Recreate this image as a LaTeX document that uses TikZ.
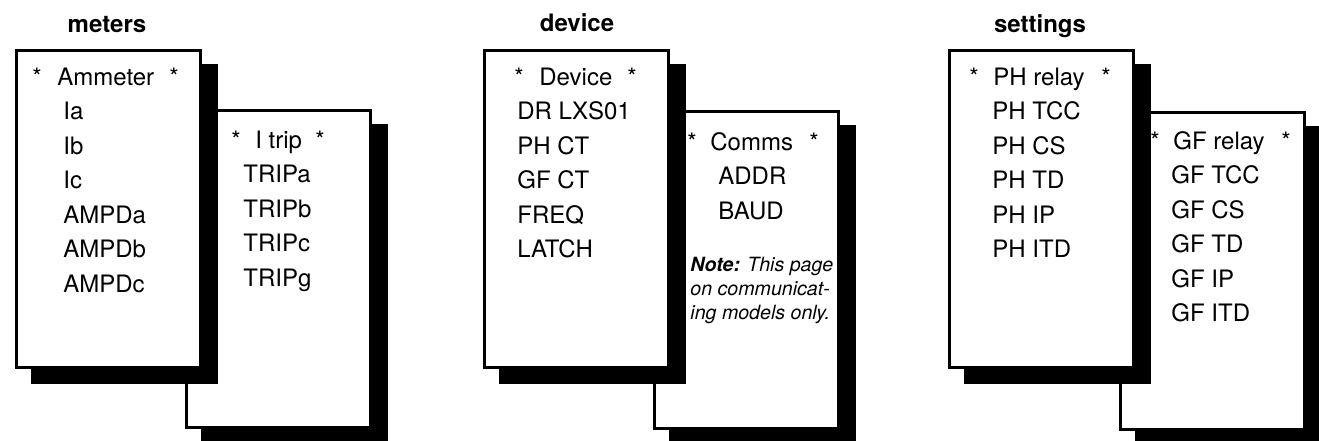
\documentclass[tikz,border=0pt]{standalone}
\usepackage{fontspec}
\setmainfont{TeX Gyre Heros}
\usetikzlibrary{positioning, shadows}

\begin{document}
\begin{tikzpicture}[
  x=0.5pt, y=-0.5pt,
  font=\fontsize{12}{14}\selectfont,
  page/.style  = {draw=black, fill=white, line width=1.5pt, inner sep=0pt,
                  minimum width=92pt, minimum height=158.5pt, anchor=north west,
                  drop shadow={fill=black, draw=black, line width=1.5pt, opacity=1,
                               shadow xshift=8pt, shadow yshift=-7.5pt}},
  title/.style = {font=\bfseries\fontsize{12}{14}\selectfont, anchor=base, inner sep=0pt},
  star/.style  = {anchor=base, inner sep=0pt},
  item/.style  = {anchor=base west, inner sep=0pt},
  note/.style  = {anchor=base west, inner sep=0pt, font=\itshape\fontsize{9.8}{12}\selectfont},
]
\useasboundingbox (0,0) rectangle (1319,440);

% ── Titles ────────────────────────────────────────────────────────────────────
\node[title] (t_met) at ( 107,32) {meters};
\node[title] (t_dev) at ( 577,31) {device};
\node[title] (t_set) at (1040,32) {settings};

% ── Back pages ────────────────────────────────────────────────────────────────
\node[page] (met_b) at ( 184.5,108.5) {};
\node[page] (dev_b) at ( 652.5,109.5) {};
\node[page] (set_b) at (1118.5,110.5) {};

% ── Front pages ───────────────────────────────────────────────────────────────
\node[page] (met_f) at ( 14.5,48.5) {};
\node[page] (dev_f) at (482.5,48.5) {};
\node[page] (set_f) at (947.5,48.5) {};

% ── meters ────────────────────────────────────────────────────────────────────
\node[star] (am_l) at ( 37,85) {*};
\node[item] (am_h) at ( 57,85) {Ammeter};
\node[star] (am_r) at (174,85) {*};
\foreach \t [count=\i] in {Ia, Ib, Ic, AMPDa, AMPDb, AMPDc}
  \node[item] (am-\i) at (63, 85+34.5*\i) {\t};

\node[star] (it_l) at (236,148) {*};
\node[item] (it_h) at (255,148) {I trip};
\node[star] (it_r) at (320,148) {*};
\foreach \t [count=\i] in {TRIPa, TRIPb, TRIPc, TRIPg}
  \node[item] (it-\i) at (243, 148+34.5*\i) {\t};

% ── device ────────────────────────────────────────────────────────────────────
\node[star] (dv_l) at (519,85) {*};
\node[item] (dv_h) at (539,85) {Device};
\node[star] (dv_r) at (632,85) {*};
\foreach \t [count=\i] in {DR LXS01, PH CT, GF CT, FREQ, LATCH}
  \node[item] (dv-\i) at (517, 85+34.5*\i) {\t};

\node[star] (cm_l) at (692,150) {*};
\node[item] (cm_h) at (710,150) {Comms};
\node[star] (cm_r) at (814,150) {*};
\foreach \t [count=\i] in {ADDR, BAUD}
  \node[item] (cm-\i) at (718, 150+34.5*\i) {\t};

\node[note] (nt-1) at (690,271) {\textbf{Note:} This page};
\node[note] (nt-2) at (690,295) {on communicat-};
\node[note] (nt-3) at (690,319) {ing models only.};

% ── settings ──────────────────────────────────────────────────────────────────
\node[star] (ph_l) at ( 974,85) {*};
\node[item] (ph_h) at ( 993,85) {PH relay};
\node[star] (ph_r) at (1106,85) {*};
\foreach \t [count=\i] in {PH TCC, PH CS, PH TD, PH IP, PH ITD}
  \node[item] (ph-\i) at (992, 85+34.5*\i) {\t};

\node[star] (gf_l) at (1155,149) {*};
\node[item] (gf_h) at (1173,149) {GF relay};
\node[star] (gf_r) at (1286,149) {*};
\foreach \t [count=\i] in {GF TCC, GF CS, GF TD, GF IP, GF ITD}
  \node[item] (gf-\i) at (1171, 149+34.5*\i) {\t};

\end{tikzpicture}
\end{document}
